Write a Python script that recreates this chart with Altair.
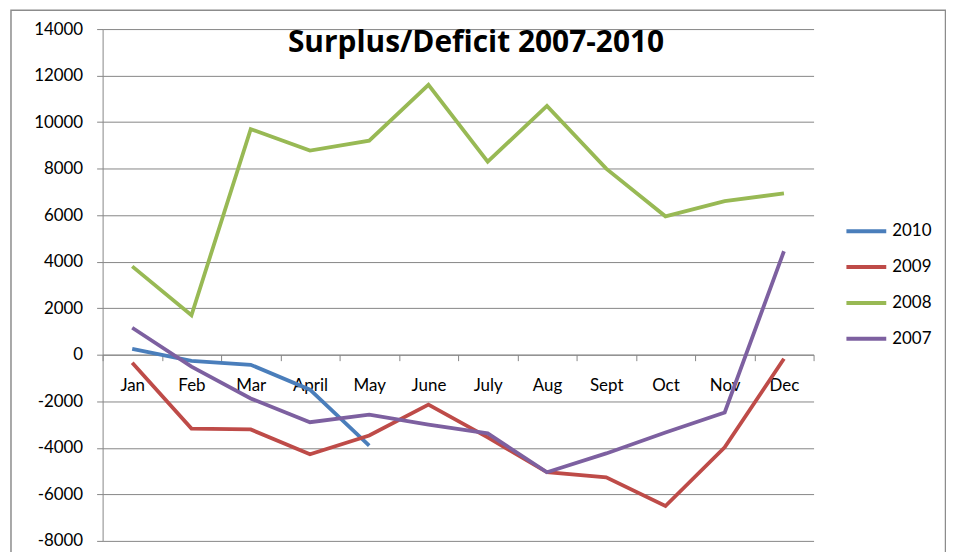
import altair as alt
import pandas as pd

months = ["Jan", "Feb", "Mar", "April", "May", "June", "July", "Aug", "Sept", "Oct", "Nov", "Dec"]
years = ["2010", "2009", "2008", "2007"]
v2010 = [250, -260, -430, -1500, -3900]
v2009 = [-340, -3170, -3210, -4280, -3470, -2140, -3550, -5050, -5270, -6500, -3980, -170]
v2008 = [3800, 1700, 9700, 8780, 9200, 11600, 8300, 10700, 8000, 5950, 6600, 6940]
v2007 = [1160, -510, -1880, -2900, -2570, -3000, -3380, -5050, -4240, -3340, -2480, 4450]
colors = ["#4A7EBB", "#BE4B48", "#98B954", "#7D60A0"]

rows = []
for yr, vals in zip(years, [v2010, v2009, v2008, v2007]):
    for m, v in zip(months, vals):
        rows.append({"month": m, "year": yr, "value": v})
df = pd.DataFrame(rows)

GRID = "#868686"
FONT = "Lato"

lines = alt.Chart(df).mark_line(strokeWidth=3.8).encode(
    x=alt.X("month:N", sort=months, title=None,
            scale=alt.Scale(type="band", paddingInner=0, paddingOuter=0),
            axis=alt.Axis(orient="bottom", offset=-187, tickBand="extent", grid=False,
                          labelAngle=0, labelFontSize=17, labelFont=FONT, labelColor="#000000",
                          labelPadding=17, tickSize=6, tickColor=GRID, domainColor=GRID)),
    y=alt.Y("value:Q", title=None,
            scale=alt.Scale(domain=[-8000, 14000], nice=False),
            axis=alt.Axis(values=list(range(-8000, 14001, 2000)), labelExpr="'' + datum.value",
                          labelFontSize=17, labelFont=FONT, labelColor="#000000",
                          labelPadding=14, tickSize=6, tickColor=GRID,
                          domainColor=GRID, gridColor=GRID, grid=True)),
    color=alt.Color("year:N", sort=years,
                    scale=alt.Scale(domain=years, range=colors),
                    legend=alt.Legend(title=None, orient="none", legendX=745, legendY=193,
                                      symbolType="stroke", symbolSize=1600, symbolStrokeWidth=4,
                                      labelFontSize=17, labelFont=FONT, labelColor="#000000",
                                      clipHeight=20, rowPadding=16, labelOffset=4)),
    order=alt.Order("year:N"),
)

frame = alt.Chart(pd.DataFrame({"a": [0]})).mark_rect(
    fill=None, stroke="#8C8C8C", strokeWidth=1.5, clip=False
).encode(x=alt.value(-92), x2=alt.value(846.5), y=alt.value(-19), y2=alt.value(560))

chart = alt.layer(frame, lines).properties(
    width=714, height=514,
    title=alt.TitleParams("Surplus/Deficit 2007-2010", font="Open Sans", fontSize=30, fontWeight="bold",
                          color="#000000", anchor="middle", frame="group", baseline="alphabetic",
                          offset=0, dx=18, dy=73),
    autosize=alt.AutoSizeParams(type="none"),
    padding={"left": 95, "top": 20, "right": 133, "bottom": 10},
).configure_view(stroke=None)

chart.save("out.html", embed_options={"renderer": "svg", "actions": False})
